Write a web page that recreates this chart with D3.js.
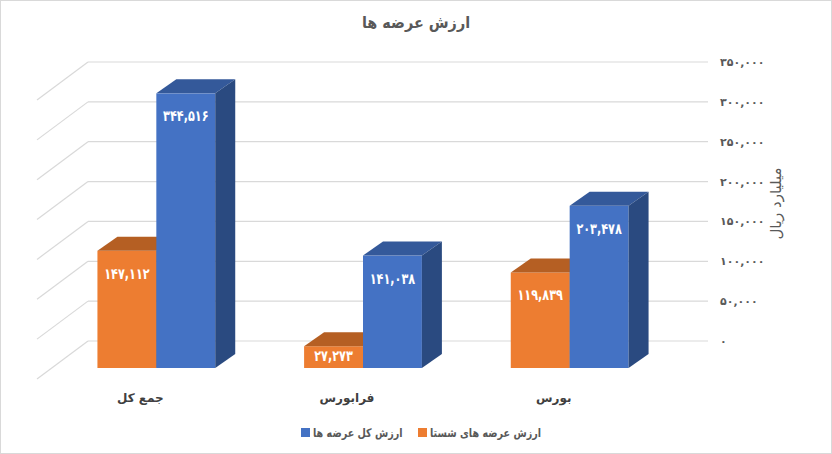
<!DOCTYPE html>
<html><head><meta charset="utf-8">
<script src="https://cdn.jsdelivr.net/npm/d3@7"></script>
<style>
html,body{margin:0;padding:0;background:#fff;}
svg text{font-family:"DejaVu Sans",sans-serif;}
</style></head>
<body>
<svg id="chart" width="832" height="454"></svg>
<script>
const title = "ارزش عرضه ها";
const axisTitle = "میلیارد ریال";
const categories = ["جمع کل", "فرابورس", "بورس"];
const seriesNames = ["ارزش عرضه های شستا", "ارزش کل عرضه ها"];
const shastaValues = [147112, 27273, 119839];
const totalValues = [344516, 141038, 203478];
const tickValues = [0, 50000, 100000, 150000, 200000, 250000, 300000, 350000];
const seriesColors = ["#ED7D31", "#4472C4"];
const topColors = ["#B55F23", "#34599A"];
const sideColors = ["#9C511D", "#2A4A80"];

const toFa = s => String(s).replace(/\d/g, d => "۰۱۲۳۴۵۶۷۸۹"[+d]);
const fmt = d3.format(",");

const svg = d3.select("#chart");
svg.append("rect").attr("x",0.5).attr("y",0.5).attr("width",831).attr("height",453)
  .attr("fill","#fff").attr("stroke","#D9D9D9");

// helper: condensed text
function addText(parent, tx, ty, sx, str, opts) {
  const t = parent.append("text")
    .attr("transform", `translate(${tx},${ty}) scale(${sx},1)`)
    .attr("text-anchor", opts.anchor || "middle")
    .attr("fill", opts.fill || "#595959")
    .style("font-size", opts.size)
    .style("font-weight", opts.weight || "bold")
    .text(str);
  if (opts.dir) t.attr("direction", opts.dir);
  return t;
}

// geometry
const front = {x0:53, x1:673, y0:368, y1:89};
const wallOff = {dx:35, dy:-27};
const barDepth = {dx:20, dy:-14};
const floorOff = {dx:-16, dy:11};

const x = d3.scaleBand().domain(categories).range([front.x0, front.x1]).paddingInner(0.43).paddingOuter(0.215);
const xs = d3.scaleBand().domain(seriesNames).range([0, x.bandwidth()]);
const y = d3.scaleLinear().domain([0, 350000]).range([front.y0, front.y1]);
const yWall = d3.scaleLinear().domain([0, 350000]).range([front.y0 + wallOff.dy, front.y1 + wallOff.dy]);

// gridlines (back wall + side wall)
const wallL = front.x0 + wallOff.dx, wallR = front.x1 + wallOff.dx;
const grid = svg.append("g").attr("stroke","#D9D9D9").attr("stroke-width",1.2).attr("fill","none");
tickValues.forEach(v => {
  const yy = yWall(v);
  grid.append("line").attr("x1",wallL).attr("x2",wallR).attr("y1",yy).attr("y2",yy);
  grid.append("line").attr("x1",wallL).attr("y1",yy)
    .attr("x2",front.x0 + floorOff.dx).attr("y2",yy - wallOff.dy + floorOff.dy);
});

// right axis
const axis = d3.axisRight(yWall).tickValues(tickValues).tickSize(0).tickPadding(12)
  .tickFormat(d => toFa(fmt(d)));
const ag = svg.append("g").attr("transform",`translate(${wallR},0)`).call(axis);
ag.select(".domain").remove();
ag.selectAll("text").attr("fill","#595959").style("font-size","11px").style("font-weight","bold")
  .attr("direction","ltr");

// axis title
svg.append("text").attr("transform",`translate(781,${yWall(175000)+2}) rotate(-90)`)
  .attr("text-anchor","middle").attr("fill","#595959").style("font-size","15px").text(axisTitle);

// bars
const data = categories.map((c,i) => ({cat:c, vals:[shastaValues[i], totalValues[i]]}));
data.forEach(d => {
  const g = svg.append("g");
  d.vals.forEach((v,si) => {
    const s = seriesNames[si];
    const bx = x(d.cat) + xs(s), w = xs.bandwidth();
    const yt = y(v), yb = y(0);
    const {dx, dy} = barDepth;
    g.append("rect").attr("x",bx).attr("y",yt).attr("width",w).attr("height",yb-yt).attr("fill",seriesColors[si]);
    g.append("polygon").attr("points",[[bx,yt],[bx+w,yt],[bx+w+dx,yt+dy],[bx+dx,yt+dy]].map(p=>p.join(",")).join(" "))
      .attr("fill",topColors[si]);
    g.append("polygon").attr("points",[[bx+w,yt],[bx+w+dx,yt+dy],[bx+w+dx,yb+dy],[bx+w,yb]].map(p=>p.join(",")).join(" "))
      .attr("fill",sideColors[si]);
  });
  d.vals.forEach((v,si) => {
    const s = seriesNames[si];
    const cx = x(d.cat) + xs(s) + xs.bandwidth()/2;
    const by = Math.min(y(v) + 28, y(0) - 7);
    addText(g, cx, by, 0.75, toFa(fmt(v)), {fill:"#fff", size:"15px", dir:"ltr"});
  });
});

// category labels
categories.forEach(c => {
  addText(svg, x(c) + x.bandwidth()/2 + floorOff.dx, 402, 1, c, {fill:"#404040", size:"12px"});
});

// title
addText(svg, 416, 28, 0.9, title, {size:"16px"});

// legend
const legendPos = [418, 301];
seriesNames.forEach((s,i) => {
  svg.append("rect").attr("x",legendPos[i]).attr("y",428).attr("width",9).attr("height",9).attr("fill",seriesColors[i]);
  addText(svg, legendPos[i]+12, 437, 0.8, s, {size:"12px", anchor:"start", dir:"ltr"});
});
</script>
</body></html>
